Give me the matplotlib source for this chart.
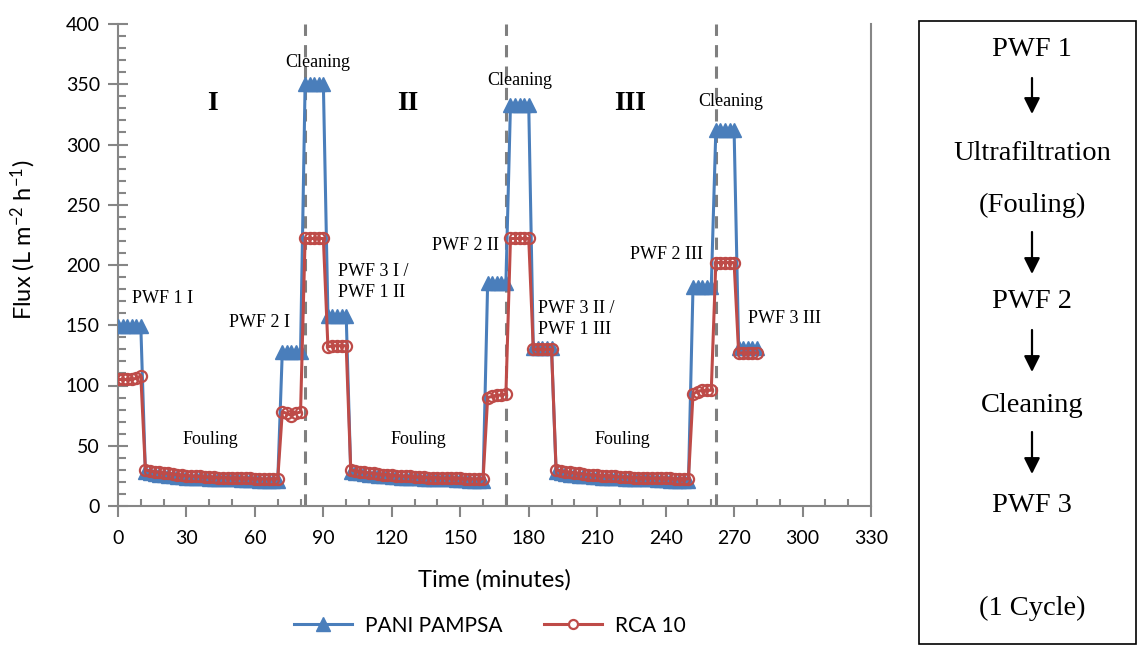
import numpy as np
import matplotlib.pyplot as plt
from matplotlib.lines import Line2D
from matplotlib.patches import Rectangle

# ---- data (flux, L m-2 h-1), one sample every 2 minutes ----
time_min = np.arange(0, 282, 2)

pani_pwf1_i = [149, 149, 149, 149, 149, 149]
pani_foul_i = [28, 27, 26.5, 26, 25.5, 25, 24.5, 24, 24, 23.5, 23.5, 23, 23, 23, 22.5,
               22.5, 22.5, 22, 22, 22, 22, 21.5, 21.5, 21.5, 21.5, 21, 21, 21, 21, 20.5]
pani_pwf2_i = [128, 128, 128, 128, 128]
pani_clean_i = [350, 350, 350, 350, 350]
pani_pwf3_i = [158, 158, 158, 158, 158]
pani_foul_ii = [28, 27.5, 27, 26.5, 26, 25.5, 25, 25, 24.5, 24, 24, 23.5, 23.5, 23, 23,
                23, 22.5, 22.5, 22.5, 22, 22, 22, 22, 21.5, 21.5, 21.5, 21, 21, 21, 20.5]
pani_pwf2_ii = [185, 185, 185, 185, 185]
pani_clean_ii = [333, 333, 333, 333, 333]
pani_pwf3_ii = [131, 131, 131, 131, 131]
pani_foul_iii = [28, 27, 26.5, 26, 25.5, 25, 25, 24.5, 24, 24, 23.5, 23.5, 23, 23, 23,
                 22.5, 22.5, 22.5, 22, 22, 22, 22, 21.5, 21.5, 21.5, 21, 21, 21, 20.5, 20.5]
pani_pwf2_iii = [182, 182, 182, 182, 182]
pani_clean_iii = [312, 312, 312, 312, 312]
pani_pwf3_iii = [131, 131, 131, 131, 131]

rca_pwf1_i = [105, 105, 105, 105, 106, 108]
rca_foul_i = [30, 29, 28.5, 28, 27.5, 27, 26.5, 26, 25.5, 25, 25, 24.5, 24.5, 24, 24,
              24, 23.5, 23.5, 23.5, 23, 23, 23, 23, 23, 22.5, 22.5, 22.5, 22.5, 22.5, 22.5]
rca_pwf2_i = [78, 77, 75, 77, 78]
rca_clean_i = [222, 222, 222, 222, 222]
rca_pwf3_i = [132, 133, 133, 133, 133]
rca_foul_ii = [30, 29, 28.5, 28, 27.5, 27, 26.5, 26, 26, 25.5, 25, 25, 24.5, 24.5, 24,
               24, 24, 23.5, 23.5, 23.5, 23, 23, 23, 23, 23, 22.5, 22.5, 22.5, 22.5, 22.5]
rca_pwf2_ii = [90, 91, 92, 92, 93]
rca_clean_ii = [222, 222, 222, 222, 222]
rca_pwf3_ii = [130, 130, 130, 130, 130]
rca_foul_iii = [30, 29, 28.5, 28, 27.5, 27, 26.5, 26, 25.5, 25.5, 25, 25, 24.5, 24.5, 24,
                24, 24, 23.5, 23.5, 23.5, 23, 23, 23, 23, 23, 23, 22.5, 22.5, 22.5, 22.5]
rca_pwf2_iii = [93, 95, 96, 96, 96]
rca_clean_iii = [202, 202, 202, 202, 202]
rca_pwf3_iii = [127, 127, 127, 127, 127]

pani = np.concatenate([pani_pwf1_i, pani_foul_i, pani_pwf2_i, pani_clean_i, pani_pwf3_i,
                       pani_foul_ii, pani_pwf2_ii, pani_clean_ii, pani_pwf3_ii,
                       pani_foul_iii, pani_pwf2_iii, pani_clean_iii, pani_pwf3_iii])
rca = np.concatenate([rca_pwf1_i, rca_foul_i, rca_pwf2_i, rca_clean_i, rca_pwf3_i,
                      rca_foul_ii, rca_pwf2_ii, rca_clean_ii, rca_pwf3_ii,
                      rca_foul_iii, rca_pwf2_iii, rca_clean_iii, rca_pwf3_iii])

cleaning_marks = [82, 170, 262]

# (text, time, flux, horizontal alignment)
stage_labels = [
    ("PWF 1 I", 19.5, 172, "center"),
    ("PWF 2 I", 62, 152, "center"),
    ("PWF 3 I /\nPWF 1 II", 96.5, 186, "left"),
    ("PWF 2 II", 152.5, 216, "center"),
    ("PWF 3 II /\nPWF 1 III", 184, 155, "left"),
    ("PWF 2 III", 240.5, 209, "center"),
    ("PWF 3 III", 276, 156, "left"),
    ("Fouling", 40.5, 55, "center"),
    ("Fouling", 131.5, 55, "center"),
    ("Fouling", 221, 55, "center"),
    ("Cleaning", 87.5, 368, "center"),
    ("Cleaning", 176, 353, "center"),
    ("Cleaning", 268.5, 336, "center"),
]
cycle_labels = [("I", 41.5, 334), ("II", 127, 334), ("III", 224.5, 334)]

cycle_steps = ["PWF 1", "Ultrafiltration", "(Fouling)", "PWF 2", "Cleaning", "PWF 3", "(1 Cycle)"]
cycle_step_y = [50, 153, 205, 302, 405, 505, 608]      # pixel rows inside the box panel
cycle_arrows = [(78, 114), (232, 274), (330, 372), (432, 474)]

# ---- figure ----
BLUE = "#4A7EBB"
RED = "#BE4B48"
GREY = "#868686"
SANS = "Lato"
SERIF = "Liberation Serif"

plt.rcParams["mathtext.default"] = "regular"

fig = plt.figure(figsize=(11.39, 6.48), dpi=100, facecolor="white")
ax = fig.add_axes([118 / 1139, 142 / 648, 753 / 1139, 482 / 648])

ax.plot(time_min, pani, color=BLUE, lw=2.2, marker="^", ms=10, mec=BLUE, mfc=BLUE,
        label="PANI PAMPSA", zorder=3)
ax.plot(time_min, rca, color=RED, lw=2.2, marker="o", ms=8, mec=RED, mfc="none",
        mew=1.6, label="RCA 10", zorder=4)

for t in cleaning_marks:
    ax.axvline(t, color="#7f7f7f", lw=2.2, ls=(0, (4, 3)), zorder=2)

ax.set_xlim(0, 330)
ax.set_ylim(0, 400)
ax.set_xticks(np.arange(0, 331, 30))
ax.set_xticks(np.arange(0, 331, 10), minor=True)
ax.set_yticks(np.arange(0, 401, 50))
ax.set_yticks(np.arange(0, 401, 10), minor=True)

for side in ["left", "bottom", "right"]:
    ax.spines[side].set_color(GREY)
    ax.spines[side].set_linewidth(1.5)
ax.spines["top"].set_visible(False)

ax.tick_params(axis="x", which="major", direction="out", length=8, width=1.5,
               color=GREY, pad=9, labelsize=14)
ax.tick_params(axis="x", which="minor", direction="in", length=5, width=1.5, color=GREY)
ax.tick_params(axis="y", which="major", direction="inout", length=14, width=1.5,
               color=GREY, pad=6, labelsize=14)
ax.tick_params(axis="y", which="minor", direction="in", length=6, width=1.5, color=GREY)
ax.tick_params(right=False, which="both")
for lab in ax.get_xticklabels() + ax.get_yticklabels():
    lab.set_fontfamily(SANS)

ax.set_xlabel("Time (minutes)", fontsize=17, family=SANS, labelpad=16)
ax.set_ylabel(r"Flux (L m$^{-2}$ h$^{-1}$)", fontsize=17, family=SANS)
ax.yaxis.set_label_coords(-0.106, 0.552)

for text, t, v, ha in stage_labels:
    ax.text(t, v, text, ha=ha, va="center", fontsize=13, family=SERIF,
            linespacing=1.3, zorder=5)
for text, t, v in cycle_labels:
    ax.text(t, v, text, ha="center", va="center", fontsize=20, fontweight="bold",
            family=SERIF, zorder=5)

handles = [
    Line2D([], [], color=BLUE, lw=2.2, marker="^", ms=10, mfc=BLUE, mec=BLUE),
    Line2D([], [], color=RED, lw=2.2, marker="o", ms=6.5, mfc="white", mec=RED, mew=1.6),
]
fig.legend(handles, ["PANI PAMPSA", "RCA 10"], loc="lower center",
           bbox_to_anchor=(0.43, -0.01), ncol=2, frameon=False, handlelength=2.8,
           columnspacing=2.0, handletextpad=0.6, prop={"family": SANS, "size": 15})

# ---- cycle description box ----
box = fig.add_axes([918 / 1139, 3 / 648, 219 / 1139, 625 / 648])
box.set_xlim(0, 219)
box.set_ylim(645, 20)
box.axis("off")
box.add_patch(Rectangle((1, 21), 217, 623, fill=False, ec="black", lw=1.2, clip_on=False))
for text, y in zip(cycle_steps, cycle_step_y):
    box.text(114, y, text, ha="center", va="center", fontsize=20.5, family=SERIF)
for y0, y1 in cycle_arrows:
    box.annotate("", xy=(114, y1), xytext=(114, y0),
                 arrowprops=dict(arrowstyle="-|>", color="black", lw=1.6,
                                 mutation_scale=24, shrinkA=0, shrinkB=0))

fig.savefig("out.png", dpi=100, facecolor="white")
